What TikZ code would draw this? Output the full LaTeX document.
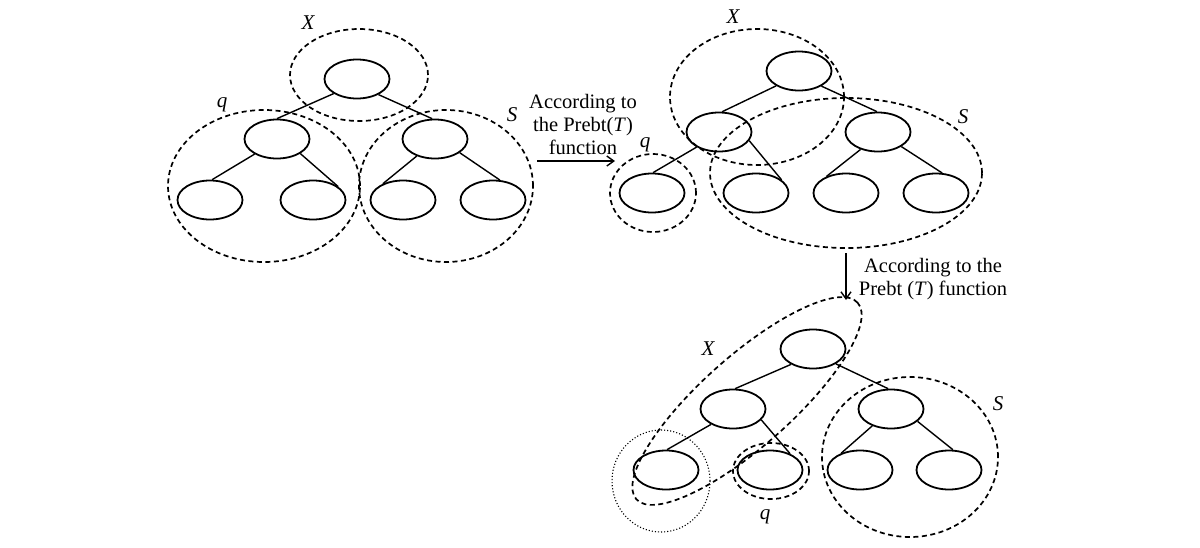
\documentclass[tikz,border=0pt]{standalone}
\usepackage{fontspec}
\setmainfont{Liberation Serif}
\usetikzlibrary{shapes.geometric,arrows.meta}
\begin{document}
\begin{tikzpicture}[x=1pt,y=1pt,
  tnode/.style={ellipse, draw, line width=1.8pt, minimum width=65pt, minimum height=39pt, inner sep=0pt},
  edge/.style={line width=1.4pt},
  grp/.style={dashed, line width=1.7pt, dash pattern=on 5pt off 3.5pt},
  dotgrp/.style={dotted, line width=1.1pt},
  lab/.style={font=\fontsize{21}{23}\selectfont\itshape, inner sep=0pt},
  txt/.style={font=\fontsize{20.5}{23}\selectfont, align=center, inner sep=0pt},
  arr/.style={line width=1.4pt, -{Straight Barb[length=7pt,width=10pt,line width=1.4pt]}}]
\useasboundingbox[fill=white] (0,0) rectangle (1200,-547);

% ---------- Tree 1 ----------
\node[tnode] (r1) at (357,-79) {};
\node[tnode] (a1) at (277,-139) {};
\node[tnode] (b1) at (435,-139) {};
\node[tnode] (c1) at (210,-200) {};
\node[tnode] (d1) at (313,-200) {};
\node[tnode] (e1) at (403,-200) {};
\node[tnode] (f1) at (493,-200) {};
\draw[edge] (r1.212) -- (a1.90);
\draw[edge] (r1.324) -- (b1.98);
\draw[edge] (a1.214) -- (c1.84);
\draw[edge] (a1.328) -- (d1.28);
\draw[edge] (b1.223) -- (e1.141);
\draw[edge] (b1.331) -- (f1.71);
\draw[grp] (359,-75) ellipse [x radius=69, y radius=46];
\draw[grp] (264,-186) ellipse [x radius=96, y radius=76];
\draw[grp] (446,-186) ellipse [x radius=87, y radius=76];
\node[lab] (lx1) at (308,-23) {X};
\node[lab] (lq1) at (222,-105) {q};
\node[lab] (ls1) at (512,-115) {S};

% ---------- arrow 1 ----------
\node[txt] (t1) at (583,-124) {According to\\the Prebt(\textit{T})\\function};
\coordinate (a1s) at (537,-161);
\coordinate (a1e) at (615,-161);
\draw[arr] (a1s) -- (a1e);

% ---------- Tree 2 ----------
\node[tnode] (r2) at (799,-71) {};
\node[tnode] (a2) at (719,-132) {};
\node[tnode] (b2) at (878,-132) {};
\node[tnode] (c2) at (652,-193) {};
\node[tnode] (d2) at (756,-193) {};
\node[tnode] (e2) at (846,-193) {};
\node[tnode] (f2) at (936,-193) {};
\draw[edge] (r2.213) -- (a2.81);
\draw[edge] (r2.326) -- (b2.93);
\draw[edge] (a2.214) -- (c2.87);
\draw[edge] (a2.344) -- (d2.27);
\draw[edge] (b2.225) -- (e2.140);
\draw[edge] (b2.328) -- (f2.73);
\draw[grp] (757,-97) ellipse [x radius=87, y radius=68];
\draw[grp] (846,-173) ellipse [x radius=136, y radius=75];
\draw[grp] (653,-193) ellipse [x radius=43, y radius=39];
\node[lab] (lx2) at (733,-17) {X};
\node[lab] (ls2) at (963,-117) {S};
\node[lab] (lq2) at (645,-145) {q};

% ---------- arrow 2 ----------
\coordinate (a2s) at (846,-253);
\coordinate (a2e) at (846,-300);
\draw[arr] (a2s) -- (a2e);
\node[txt] (t2) at (933,-279) {According to the\\Prebt (\textit{T}) function};

% ---------- Tree 3 ----------
\node[tnode] (r3) at (813,-349) {};
\node[tnode] (a3) at (733,-409) {};
\node[tnode] (b3) at (891,-409) {};
\node[tnode] (c3) at (666,-470) {};
\node[tnode] (d3) at (770,-470) {};
\node[tnode] (e3) at (860,-470) {};
\node[tnode] (f3) at (949,-470) {};
\draw[edge] (r3.215) -- (a3.84);
\draw[edge] (r3.327) -- (b3.98);
\draw[edge] (a3.215) -- (c3.87);
\draw[edge] (a3.339) -- (d3.39);
\draw[edge] (b3.222) -- (e3.138);
\draw[edge] (b3.335) -- (f3.79);
\draw[grp, rotate around={41.6:(747,-401)}] (747,-401) ellipse [x radius=148, y radius=45];
\draw[grp] (771,-471) ellipse [x radius=38, y radius=28];
\draw[grp] (910,-457) ellipse [x radius=88, y radius=80];
\draw[dotgrp] (661,-481) ellipse [x radius=49, y radius=51];
\node[lab] (lx3) at (708,-349) {X};
\node[lab] (ls3) at (998,-404) {S};
\node[lab] (lq3) at (765,-517) {q};
\end{tikzpicture}
\end{document}
